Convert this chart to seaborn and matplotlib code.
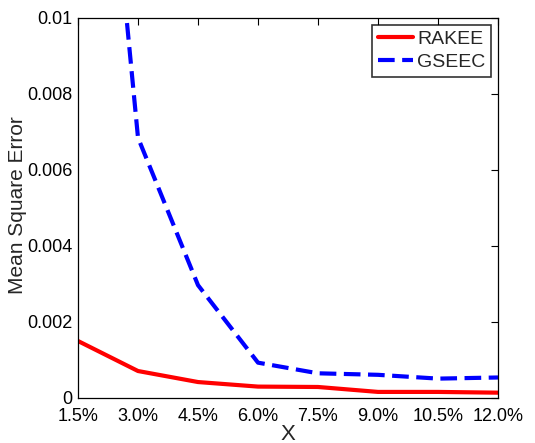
import matplotlib
matplotlib.use("Agg")
import matplotlib.pyplot as plt
import seaborn as sns
import pandas as pd

x_vals = [1.5, 3.0, 4.5, 6.0, 7.5, 9.0, 10.5, 12.0]
x_labels = ["1.5%", "3.0%", "4.5%", "6.0%", "7.5%", "9.0%", "10.5%", "12.0%"]
rakee = [0.00150, 0.00071, 0.00042, 0.00030, 0.00029, 0.00016, 0.00016, 0.00014]
gseec = [0.0233, 0.00685, 0.00297, 0.00093, 0.00065, 0.00061, 0.00051, 0.00054]
y_ticks = [0, 0.002, 0.004, 0.006, 0.008, 0.01]
y_labels = ["0", "0.002", "0.004", "0.006", "0.008", "0.01"]

df = pd.DataFrame({
    "x": x_vals * 2,
    "mse": rakee + gseec,
    "method": ["RAKEE"] * len(x_vals) + ["GSEEC"] * len(x_vals),
})

sns.set_style("white")
plt.rcParams["font.family"] = ["Liberation Sans", "DejaVu Sans"]

fig = plt.figure(figsize=(5.35, 4.43), dpi=100)
ax = fig.add_axes([78/535, 1 - 398/443, 420/535, 380/443])

sns.lineplot(data=df, x="x", y="mse", hue="method", style="method",
             palette={"RAKEE": "#ff0000", "GSEEC": "#0000ff"},
             dashes={"RAKEE": "", "GSEEC": (4, 1.8)},
             linewidth=3.0, ax=ax, legend=True)

ax.set_xlim(1.5, 12.0)
ax.set_ylim(0, 0.01)
ax.set_xticks(x_vals)
ax.set_xticklabels(x_labels)
ax.set_yticks(y_ticks)
ax.set_yticklabels(y_labels)
ax.tick_params(direction="in", length=5, width=0.8, top=True, right=True,
               labelsize=13, colors="black")
ax.tick_params(axis="x", pad=7)
ax.tick_params(axis="y", pad=4)
for s in ax.spines.values():
    s.set_visible(True)
    s.set_color("black")
    s.set_linewidth(0.9)
ax.set_xlabel("X", fontsize=16)
ax.xaxis.set_label_coords(0.5, (398 - 434) / 380, transform=ax.transAxes)
ax.xaxis.label.set_va("center")
ax.set_ylabel("Mean Square Error", fontsize=15)
ax.yaxis.set_label_coords((18 - 78) / 420, (398 - 205) / 380, transform=ax.transAxes)
ax.yaxis.label.set_va("center")

leg = ax.legend(loc="upper right", fontsize=14, frameon=True, fancybox=False,
                handlelength=1.8, handletextpad=0.2, borderpad=0.3,
                labelspacing=0.25, borderaxespad=0.35)
leg.get_frame().set_edgecolor("black")
leg.get_frame().set_linewidth(1.2)

fig.savefig("out.png", dpi=100)
